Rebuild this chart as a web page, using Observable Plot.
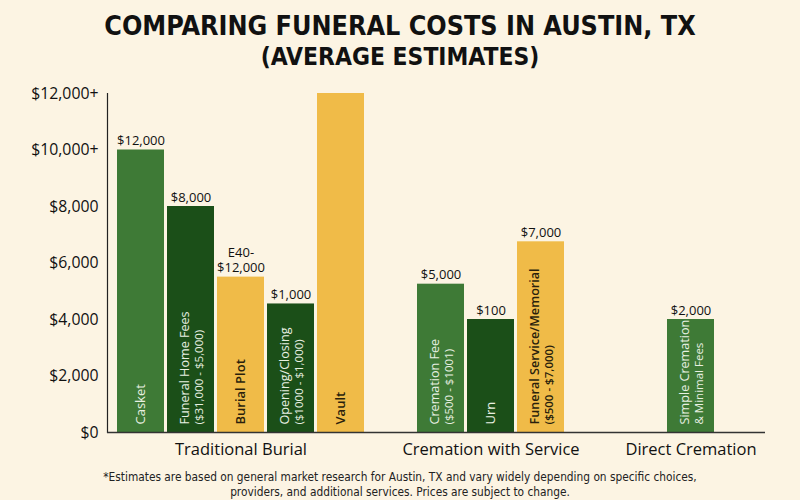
<!DOCTYPE html>
<html>
<head>
<meta charset="utf-8">
<script src="https://cdn.jsdelivr.net/npm/d3@7"></script>
<script src="https://cdn.jsdelivr.net/npm/@observablehq/plot@0.6"></script>
<style>
  html, body { margin: 0; padding: 0; background: #fcf4e3; width: 800px; height: 500px; overflow: hidden; }
  #title { padding-top: 10px; text-align: center; color: #111; font-family: "DejaVu Sans Condensed", "Open Sans", sans-serif; font-weight: 700; }
  #title .t1 { font-size: 26.7px; line-height: 32px; height: 32px; }
  #title .t2 { font-size: 24.4px; line-height: 30px; height: 30px; }
  #chart { height: 390px; }
  #note { padding-top: 8px; text-align: center; font-family: "DejaVu Sans Condensed", "Open Sans", sans-serif; font-size: 11.8px; line-height: 15px; color: #222; }
</style>
</head>
<body>
<div id="title"><div class="t1">COMPARING FUNERAL COSTS IN AUSTIN, TX</div><div class="t2">(AVERAGE ESTIMATES)</div></div>
<div id="chart"></div>
<div id="note">*Estimates are based on general market research for Austin, TX and vary widely depending on specific choices,<br>providers, and additional services. Prices are subject to change.</div>
<script>
// ---- data ----
const categories = ["Casket", "Funeral Home Fees", "Burial Plot", "Opening/Closing", "Vault",
                    "Cremation Fee", "Urn", "Funeral Service/Memorial", "Simple Cremation"];
const groups = ["Traditional Burial", "Traditional Burial", "Traditional Burial", "Traditional Burial", "Traditional Burial",
                "Cremation with Service", "Cremation with Service", "Cremation with Service", "Direct Cremation"];
const values = [10000, 8000, 5500, 4550, 12000, 5250, 4000, 6750, 4000];
const tones = ["mid", "dark", "gold", "dark", "gold", "mid", "dark", "gold", "mid"];
const valueLabels = ["$12,000", "$8,000", "E40-\n$12,000", "$1,000", "", "$5,000", "$100", "$7,000", "$2,000"];
const barLabels = ["Casket", "Funeral Home Fees", "Burial Plot", "Opening/Closing", "Vault",
                   "Cremation Fee", "Urn", "Funeral Service/Memorial", "Simple Cremation"];
const subLabels = ["", "($31,000 - $5,000)", "", "($1000 - $1,000)", "", "($500 - $1001)", "", "($500 - $7,000)", "& Minimal Fees"];
const groupNames = ["Traditional Burial", "Cremation with Service", "Direct Cremation"];
const groupCenters = ["Burial Plot", "Urn", "Simple Cremation"];
const yTicks = [0, 2000, 4000, 6000, 8000, 10000, 12000];
const yTickLabels = ["$0", "$2,000", "$4,000", "$6,000", "$8,000", "$10,000+", "$12,000+"];

// ---- styles ----
const toneDomain = ["mid", "dark", "gold"];
const toneColors = ["#3e7a36", "#1b4f18", "#f0bb48"];
const inkOn = {mid: "#e8f0e2", dark: "#e8f0e2", gold: "#2a1f0c"};
const font = "Open Sans, sans-serif";

const data = categories.map((c, i) => ({
  cat: c, group: groups[i], value: values[i], tone: tones[i],
  vlabel: valueLabels[i], label: barLabels[i], sub: subLabels[i]
}));
// x layout slots: blank spacer slots between groups
const slots = [...categories.slice(0, 5), "·1", ...categories.slice(5, 8), "·2", "·3", categories[8]];
const groupData = groupNames.map((g, i) => ({group: g, cat: groupCenters[i]}));

const labelMarks = [];
for (const ink of ["light", "darkInk"]) {
  const f = d => (ink === "darkInk") === (d.tone === "gold");
  const fill = ink === "darkInk" ? inkOn.gold : inkOn.mid;
  const weight = ink === "darkInk" ? 600 : 400;
  labelMarks.push(
    Plot.text(data.filter(d => f(d) && !d.sub), {x: "cat", y: 0, text: "label", rotate: -90, textAnchor: "start",
      dy: -8, fill, fontSize: 13, fontWeight: weight}),
    Plot.text(data.filter(d => f(d) && d.sub), {x: "cat", y: 0, text: "label", rotate: -90, textAnchor: "start",
      dy: -8, dx: -6, fill, fontSize: 12.6, fontWeight: weight}),
    Plot.text(data.filter(d => f(d) && d.sub), {x: "cat", y: 0, text: "sub", rotate: -90, textAnchor: "start",
      dy: -8, dx: 8, fill, fontSize: 11.5, fontWeight: weight})
  );
}

const chart = Plot.plot({
  width: 800, height: 390,
  marginTop: 21, marginBottom: 30, marginLeft: 107, marginRight: 35,
  style: {background: "transparent", fontFamily: font, color: "#111"},
  x: {domain: slots, paddingInner: 0.06, paddingOuter: 0.6, align: 0.17, axis: null},
  y: {domain: [0, 12000], axis: null},
  color: {domain: toneDomain, range: toneColors},
  marks: [
    Plot.barY(data, {x: "cat", y: "value", fill: "tone"}),
    Plot.axisY({ticks: yTicks, tickSize: 0, tickPadding: 9, fontSize: 15.8, fontWeight: 500, label: null,
      tickFormat: d => yTickLabels[yTicks.indexOf(d)]}),
    Plot.frame({anchor: "left", stroke: "#222", strokeWidth: 1.2}),
    Plot.ruleY([0], {stroke: "#333", strokeWidth: 1.5}),
    Plot.text(data, {x: "cat", y: "value", text: "vlabel", lineAnchor: "bottom", dy: -5, fontSize: 13,
      fontWeight: 500, fill: "#111", lineHeight: 1.2}),
    ...labelMarks,
    Plot.text(groupData, {x: "cat", y: 0, text: "group", lineAnchor: "middle", dy: 17, fontSize: 16.5,
      fontWeight: 500, fill: "#111"})
  ]
});
document.getElementById("chart").appendChild(chart);
</script>
</body>
</html>
